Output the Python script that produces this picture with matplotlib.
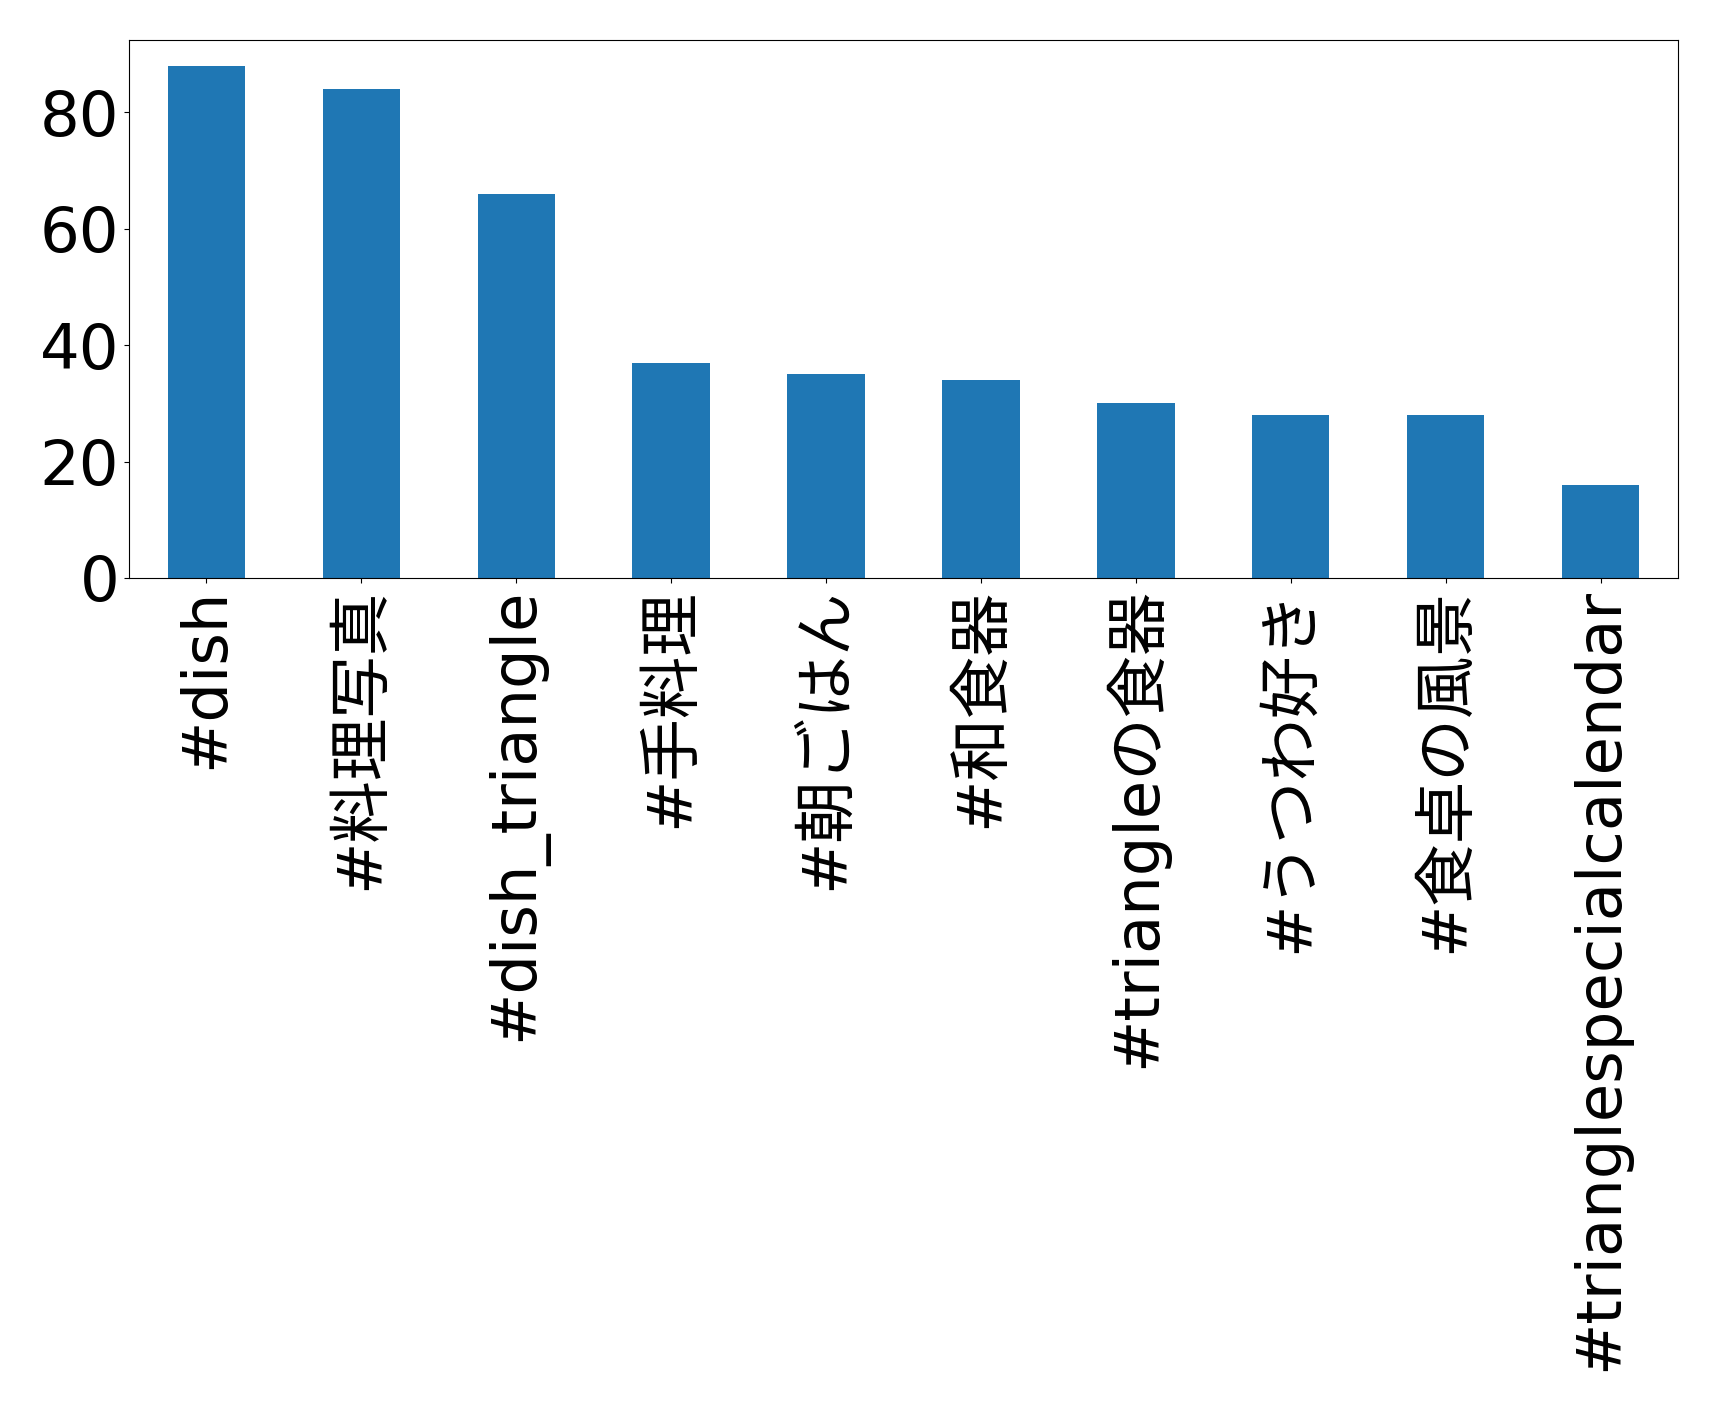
import pandas as pd
import matplotlib
matplotlib.use('Agg')
import matplotlib.pyplot as plt
from matplotlib.ticker import MultipleLocator

# hashtag counts (top 10)
tags = ['#dish', '#料理写真', '#dish_triangle', '#手料理', '#朝ごはん',
        '#和食器', '#triangleの食器', '#うつわ好き', '#食卓の風景',
        '#trianglespecialcalendar']
counts = [88, 84, 66, 37, 35, 34, 30, 28, 28, 16]

plt.rcParams['font.family'] = ['DejaVu Sans', 'Noto Sans CJK JP']
plt.rcParams['font.size'] = 45

fig = plt.figure(figsize=(17.19, 14.11), dpi=100)
ax = fig.add_axes([129 / 1719, 1 - 578 / 1411, (1678 - 129) / 1719, (578 - 40) / 1411])

top10 = pd.Series(counts, index=tags)
top10.plot(kind='bar', ax=ax, color='#1f77b4')
ax.yaxis.set_major_locator(MultipleLocator(20))
ax.tick_params(axis='both', labelsize=45)

fig.savefig('out.png', dpi=100)
plt.close()
